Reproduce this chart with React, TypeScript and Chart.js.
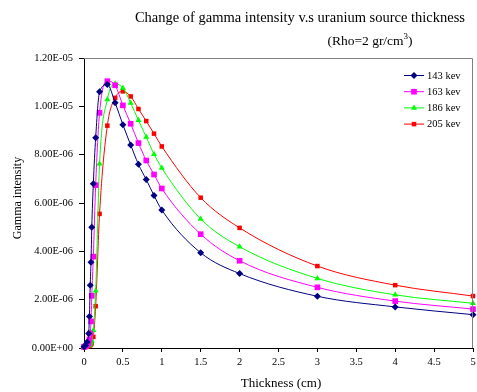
import React, { useEffect, useRef } from "react";
import { Chart, registerables } from "chart.js";

Chart.register(...registerables);

// Thickness (cm)
const thickness = [0, 0.02, 0.04, 0.06, 0.07, 0.08, 0.09, 0.1, 0.12, 0.15, 0.2, 0.3, 0.4, 0.5, 0.6, 0.7, 0.8, 0.9, 1, 1.5, 2, 3, 4, 5];

// Gamma intensity, in units of 1E-06
const kev143 = [0.05, 0.1, 0.25, 0.6, 1.3, 2.6, 3.55, 5.0, 6.8, 8.7, 10.6, 10.9, 10.15, 9.24, 8.4, 7.6, 6.97, 6.31, 5.71, 3.94, 3.08, 2.14, 1.7, 1.38];
const kev163 = [0.05, 0.08, 0.12, 0.2, 0.35, 0.6, 1.1, 2.16, 3.78, 6.74, 9.73, 11.04, 10.87, 10.04, 9.28, 8.48, 7.76, 7.18, 6.6, 4.71, 3.61, 2.51, 1.94, 1.61];
const kev186 = [0.03, 0.05, 0.08, 0.1, 0.13, 0.17, 0.22, 0.3, 0.73, 2.37, 7.62, 10.28, 10.93, 10.76, 10.14, 9.42, 8.73, 8.02, 7.45, 5.34, 4.19, 2.88, 2.2, 1.85];
const kev205 = [0.02, 0.04, 0.06, 0.08, 0.1, 0.12, 0.15, 0.2, 0.46, 1.73, 5.55, 9.2, 10.35, 10.62, 10.41, 9.89, 9.39, 8.87, 8.34, 6.22, 4.97, 3.39, 2.6, 2.15];

const seriesLabels = ["143 kev", "163 kev", "186 kev", "205 kev"];
const seriesValues = [kev143, kev163, kev186, kev205];
const seriesColors = ["#000080", "#FF00FF", "#00FF00", "#FF0000"];
const seriesMarkers = ["rectRot", "rect", "triangle", "rect"];
const seriesRadius = [3.5, 4, 3.5, 3.2];

const titleLine1 = "Change of gamma intensity v.s uranium source thickness";
const titleLine2a = "(Rho=2 gr/cm";
const titleLine2sup = "3";
const titleLine2b = ")";
const xTitle = "Thickness (cm)";
const yTitle = "Gamma intensity";

const FONT = "'Liberation Serif', 'Times New Roman', serif";

function fmtExp(v: number): string {
  const x = v * 1e-6;
  if (Math.abs(x) < 1e-15) return "0.00E+00";
  const s = x.toExponential(2);
  const [m, e] = s.split("e");
  const sign = e[0] === "-" ? "-" : "+";
  const digits = e.replace(/[+-]/, "").padStart(2, "0");
  return `${m}E${sign}${digits}`;
}

function drawMarker(ctx: CanvasRenderingContext2D, style: string, x: number, y: number, r: number) {
  ctx.beginPath();
  if (style === "rectRot") {
    ctx.moveTo(x, y - r);
    ctx.lineTo(x + r, y);
    ctx.lineTo(x, y + r);
    ctx.lineTo(x - r, y);
    ctx.closePath();
  } else if (style === "triangle") {
    const h = r * 1.5;
    ctx.moveTo(x, y - r);
    ctx.lineTo(x + h * 0.58, y + r * 0.5);
    ctx.lineTo(x - h * 0.58, y + r * 0.5);
    ctx.closePath();
  } else {
    const s = r * 0.707 * 2;
    ctx.rect(x - s / 2, y - s / 2, s, s);
  }
  ctx.fill();
}

const decorPlugin = {
  id: "decor",
  afterDraw(chart: any) {
    const ctx: CanvasRenderingContext2D = chart.ctx;
    const { left, right, top, bottom } = chart.chartArea;
    ctx.save();
    // plot border top/right
    ctx.strokeStyle = "#808080";
    ctx.lineWidth = 1;
    ctx.beginPath();
    ctx.moveTo(left, top + 0.5);
    ctx.lineTo(right - 0.5, top + 0.5);
    ctx.lineTo(right - 0.5, bottom);
    ctx.stroke();

    ctx.fillStyle = "#000";
    // title
    ctx.font = `14.5px ${FONT}`;
    ctx.textAlign = "right";
    ctx.textBaseline = "alphabetic";
    ctx.fillText(titleLine1, 465, 22);
    ctx.font = `13.5px ${FONT}`;
    const wA = ctx.measureText(titleLine2a).width;
    const wB = ctx.measureText(titleLine2b).width;
    ctx.font = `9px ${FONT}`;
    const wS = ctx.measureText(titleLine2sup).width;
    const total = wA + wS + wB;
    let sx = 370 - total / 2;
    ctx.textAlign = "left";
    ctx.font = `13.5px ${FONT}`;
    ctx.fillText(titleLine2a, sx, 45);
    sx += wA;
    ctx.font = `9px ${FONT}`;
    ctx.fillText(titleLine2sup, sx, 39);
    sx += wS;
    ctx.font = `13.5px ${FONT}`;
    ctx.fillText(titleLine2b, sx, 45);

    // axis titles
    ctx.textAlign = "center";
    ctx.textBaseline = "middle";
    ctx.font = `13px ${FONT}`;
    ctx.fillText(xTitle, 281, 384);
    ctx.save();
    ctx.translate(18, 198);
    ctx.rotate(-Math.PI / 2);
    ctx.font = `12px ${FONT}`;
    ctx.fillText(yTitle, 0, 0);
    ctx.restore();

    // legend
    ctx.font = `10.5px ${FONT}`;
    ctx.textAlign = "left";
    ctx.textBaseline = "middle";
    seriesLabels.forEach((lab, i) => {
      const y = 75 + i * 16.2;
      ctx.strokeStyle = seriesColors[i];
      ctx.fillStyle = seriesColors[i];
      ctx.lineWidth = 1;
      ctx.beginPath();
      ctx.moveTo(404, y + 0.5);
      ctx.lineTo(424, y + 0.5);
      ctx.stroke();
      drawMarker(ctx, seriesMarkers[i], 414, y + 0.5, seriesRadius[i]);
      ctx.fillStyle = "#000";
      ctx.fillText(lab, 427, y + 1);
    });
    ctx.restore();
  },
};

export default function App() {
  const ref = useRef<HTMLCanvasElement | null>(null);
  useEffect(() => {
    if (!ref.current) return;
    const datasets = seriesValues.map((vals, i) => ({
      label: seriesLabels[i],
      data: thickness.map((t, j) => ({ x: t, y: vals[j] })),
      borderColor: seriesColors[i],
      backgroundColor: seriesColors[i],
      borderWidth: 1,
      pointStyle: seriesMarkers[i],
      pointRadius: seriesRadius[i],
      pointBorderWidth: 0,
      showLine: true,
      cubicInterpolationMode: "monotone" as const,
      clip: false as any,
    }));
    const chart = new Chart(ref.current, {
      type: "scatter",
      data: { datasets },
      options: {
        animation: false,
        responsive: false,
        maintainAspectRatio: false,
        layout: { padding: { top: 58, right: 1, left: 0, bottom: 0 } },
        plugins: { legend: { display: false }, tooltip: { enabled: false }, title: { display: false } },
        scales: {
          x: {
            type: "linear",
            min: 0,
            max: 5,
            ticks: {
              stepSize: 0.5,
              color: "#000",
              font: { family: FONT, size: 10.5 },
              padding: 4,
              maxRotation: 0,
              autoSkip: false,
              callback: (v: any) => String(Math.round(Number(v) * 10) / 10),
            },
            grid: { drawOnChartArea: false, drawTicks: true, tickLength: 4, color: "#000" },
            border: { display: true, color: "#000", width: 1 },
            afterFit: (s: any) => {
              s.height = 44;
              s.paddingLeft = 0;
              s.paddingRight = 0;
            },
          },
          y: {
            type: "linear",
            min: 0,
            max: 12,
            ticks: {
              stepSize: 2,
              color: "#000",
              font: { family: FONT, size: 10.5 },
              padding: 6,
              callback: (v: any) => fmtExp(Number(v)),
            },
            grid: { drawOnChartArea: false, drawTicks: true, tickLength: 5, color: "#000" },
            border: { display: true, color: "#000", width: 1 },
            afterFit: (s: any) => {
              s.width = 84;
              s.paddingTop = 0;
              s.paddingBottom = 0;
            },
          },
        },
      },
      plugins: [decorPlugin],
    });
    return () => chart.destroy();
  }, []);
  return (
    <div style={{ position: "fixed", left: 0, top: 0, width: 477, height: 392, background: "#fff" }}>
      <canvas ref={ref} width={477} height={392} style={{ width: 477, height: 392 }} />
    </div>
  );
}
